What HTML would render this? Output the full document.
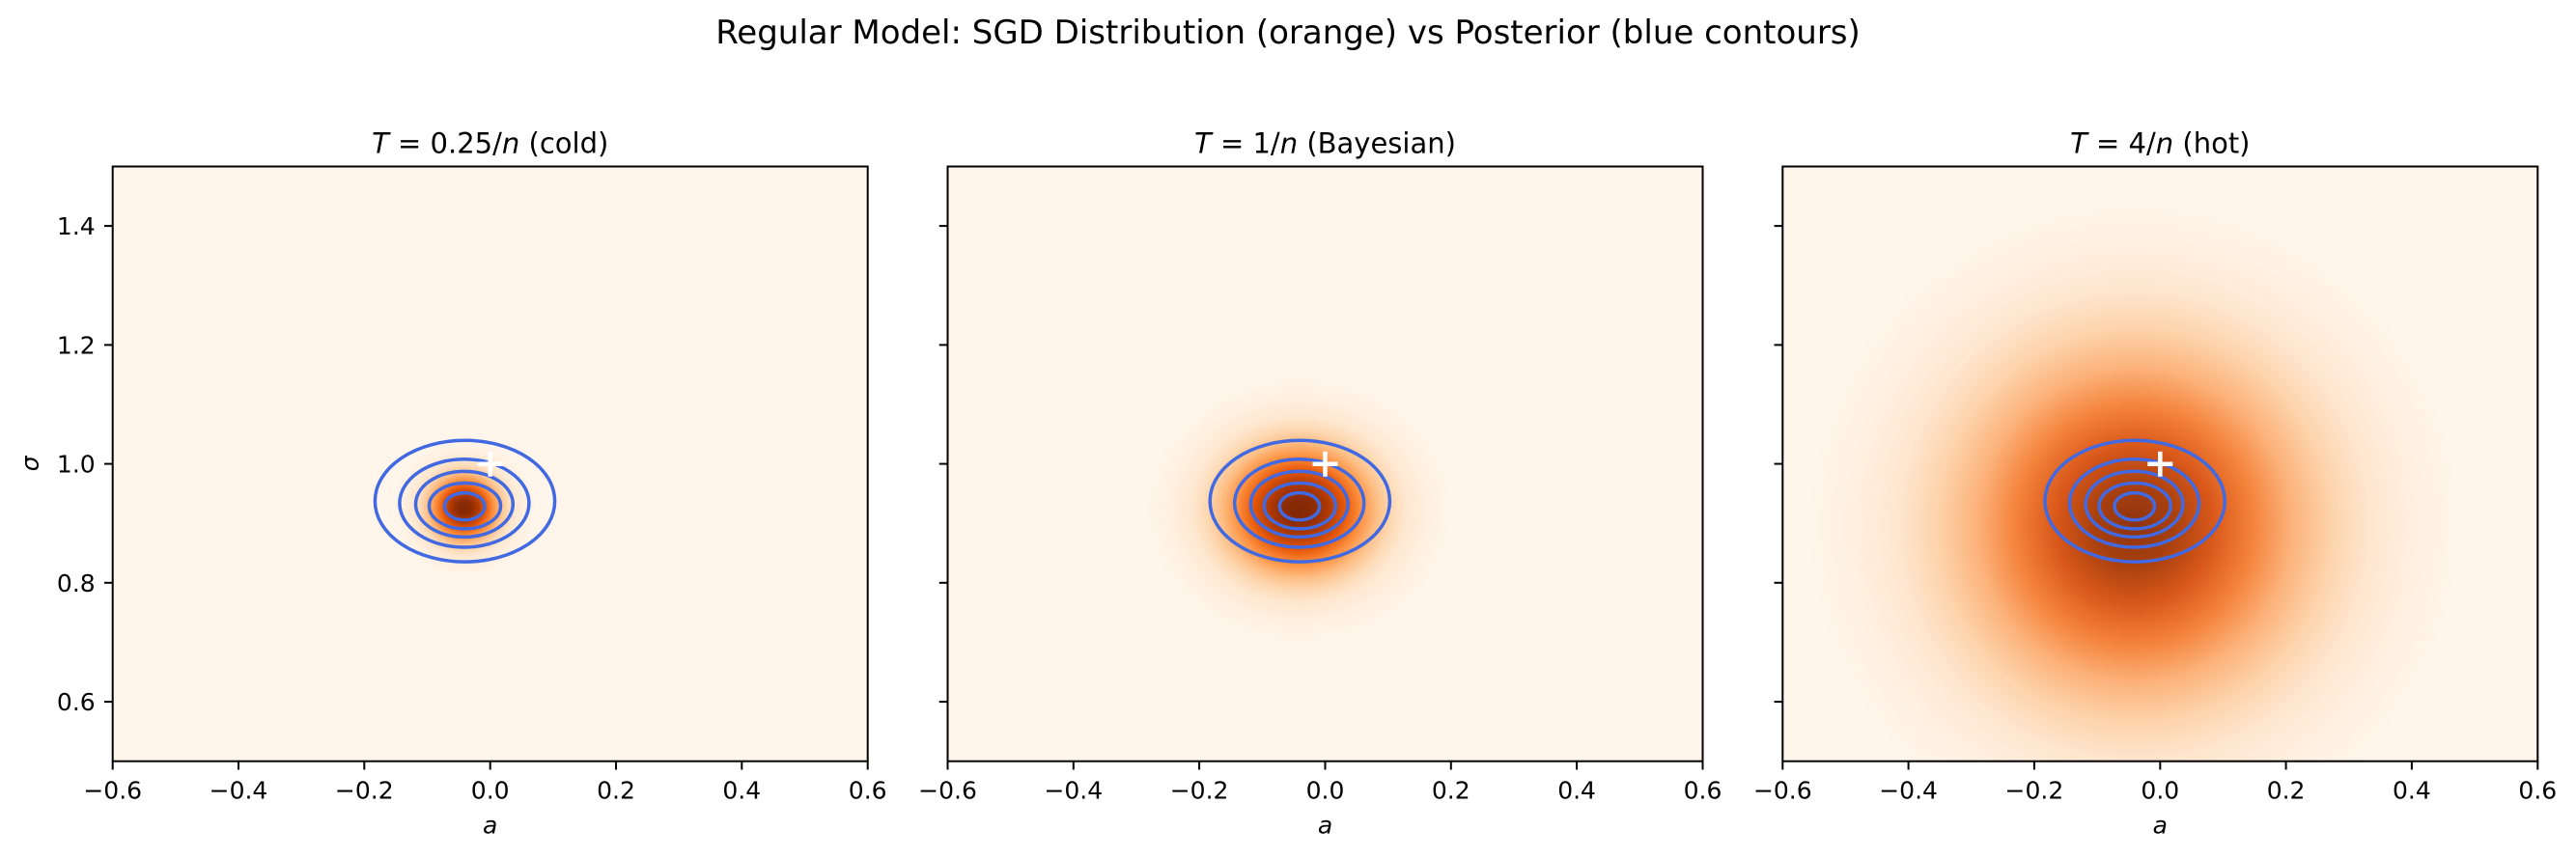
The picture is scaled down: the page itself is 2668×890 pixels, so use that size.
<!DOCTYPE html>
<html><head><meta charset="utf-8"><style>
html,body{margin:0;padding:0;background:#fff}
svg{display:block}
text{font-family:"DejaVu Sans","Liberation Sans",sans-serif;fill:#000}
.tk{font-size:25px}
.tt{font-size:29px}
</style></head><body>
<svg width="2668" height="890" viewBox="0 0 2668 890" xmlns="http://www.w3.org/2000/svg">
<defs>
<radialGradient id="g" cx="0.5" cy="0.5" r="0.5">
<stop offset="0" stop-color="#7f2704"/>
<stop offset="0.1" stop-color="#8c2c04"/>
<stop offset="0.2" stop-color="#b33b02"/>
<stop offset="0.3" stop-color="#e85a0a"/>
<stop offset="0.4" stop-color="#fd903f"/>
<stop offset="0.5" stop-color="#fdbd83"/>
<stop offset="0.6" stop-color="#fdd9b4"/>
<stop offset="0.7" stop-color="#fee8d1"/>
<stop offset="0.85" stop-color="#fff1e2"/>
<stop offset="1" stop-color="#fff5eb"/>
</radialGradient>
<radialGradient id="g3" cx="0.5" cy="0.5" r="0.5">
<stop offset="0" stop-color="#8e3310"/>
<stop offset="0.12" stop-color="#a8400e"/>
<stop offset="0.24" stop-color="#d9581a"/>
<stop offset="0.36" stop-color="#f4823a"/>
<stop offset="0.48" stop-color="#fcb27a"/>
<stop offset="0.6" stop-color="#fdd3ab"/>
<stop offset="0.72" stop-color="#fee6cf"/>
<stop offset="0.86" stop-color="#fff0e1"/>
<stop offset="1" stop-color="#fff5eb"/>
</radialGradient>
<clipPath id="cp"><rect x="0" y="0" width="782" height="616.2"/></clipPath>
<g id="ct" fill="none" stroke="#4169e1" stroke-width="3.5">
<ellipse cx="364.8" cy="346.7" rx="93.1" ry="62.9"/>
<ellipse cx="364.2" cy="348.9" rx="67" ry="45.6"/>
<ellipse cx="364.2" cy="349.9" rx="50.4" ry="34"/>
<ellipse cx="364.8" cy="351.7" rx="37" ry="23.7"/>
<ellipse cx="364.5" cy="352.2" rx="20.7" ry="14.1"/>
</g>
<g id="pl" stroke="#fff" stroke-width="4.5"><line x1="378" y1="308.3" x2="404" y2="308.3"/><line x1="391" y1="295.3" x2="391" y2="321.3"/></g>
<g id="ax">
<rect x="0" y="0" width="782" height="616.2" fill="none" stroke="#000" stroke-width="2"/>
<g stroke="#000" stroke-width="2">
<line x1="0" y1="616.2" x2="0" y2="625"/><line x1="130.3" y1="616.2" x2="130.3" y2="625"/><line x1="260.6" y1="616.2" x2="260.6" y2="625"/><line x1="391" y1="616.2" x2="391" y2="625"/><line x1="521.3" y1="616.2" x2="521.3" y2="625"/><line x1="651.6" y1="616.2" x2="651.6" y2="625"/><line x1="782" y1="616.2" x2="782" y2="625"/>
<line x1="0" y1="61.6" x2="-8.75" y2="61.6"/><line x1="0" y1="184.9" x2="-8.75" y2="184.9"/><line x1="0" y1="308.1" x2="-8.75" y2="308.1"/><line x1="0" y1="431.3" x2="-8.75" y2="431.3"/><line x1="0" y1="554.6" x2="-8.75" y2="554.6"/>
</g>
<g class="tk" text-anchor="middle">
<text x="0" y="655">−0.6</text><text x="130.3" y="655">−0.4</text><text x="260.6" y="655">−0.2</text><text x="391" y="655">0.0</text><text x="521.3" y="655">0.2</text><text x="651.6" y="655">0.4</text><text x="782" y="655">0.6</text>
<text x="391" y="691" font-style="italic">a</text>
</g>
</g>
</defs>

<text x="1334" y="45" text-anchor="middle" style="font-size:34px">Regular Model: SGD Distribution (orange) vs Posterior (blue contours)</text>

<g transform="translate(116.7,172.5)">
<g clip-path="url(#cp)">
<rect width="782" height="616.2" fill="#fff5eb"/>
<ellipse cx="364" cy="354" rx="75" ry="72" fill="url(#g)"/>
<use href="#ct"/><use href="#pl"/>
</g>
<use href="#ax"/>
<g class="tk" text-anchor="end">
<text x="-18" y="70.6">1.4</text><text x="-18" y="193.9">1.2</text><text x="-18" y="317.1">1.0</text><text x="-18" y="440.3">0.8</text><text x="-18" y="563.6">0.6</text>
</g>
<text class="tk" transform="translate(-77,308) rotate(-90)" text-anchor="middle" font-style="italic">σ</text>
<text class="tt" x="391" y="-14" text-anchor="middle"><tspan font-style="italic">T</tspan> = 0.25/<tspan font-style="italic">n</tspan> (cold)</text>
</g>

<g transform="translate(981.5,172.5)">
<g clip-path="url(#cp)">
<rect width="782" height="616.2" fill="#fff5eb"/>
<ellipse cx="364" cy="356" rx="160" ry="140" fill="url(#g)"/>
<use href="#ct"/><use href="#pl"/>
</g>
<use href="#ax"/>
<text class="tt" x="391" y="-14" text-anchor="middle"><tspan font-style="italic">T</tspan> = 1/<tspan font-style="italic">n</tspan> (Bayesian)</text>
</g>

<g transform="translate(1846.3,172.5)">
<g clip-path="url(#cp)">
<rect width="782" height="616.2" fill="#fff5eb"/>
<ellipse cx="364" cy="372" rx="340" ry="340" fill="url(#g3)"/>
<use href="#ct"/><use href="#pl"/>
</g>
<use href="#ax"/>
<text class="tt" x="391" y="-14" text-anchor="middle"><tspan font-style="italic">T</tspan> = 4/<tspan font-style="italic">n</tspan> (hot)</text>
</g>
</svg>
</body></html>
